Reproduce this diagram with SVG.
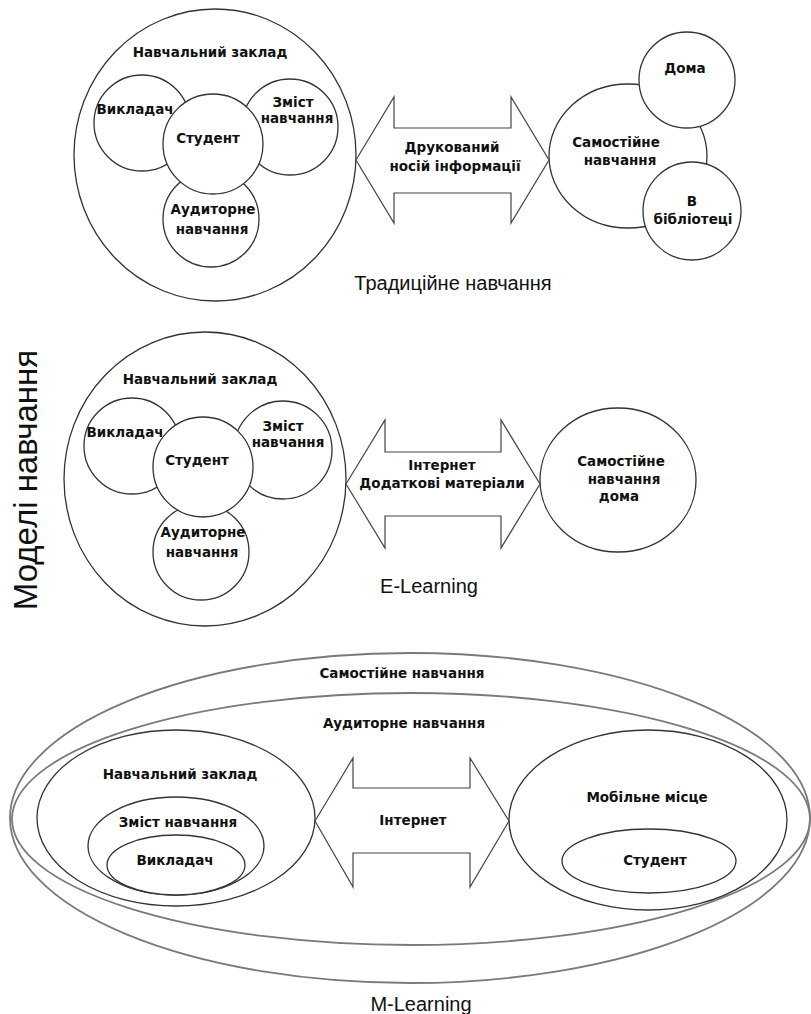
<svg xmlns="http://www.w3.org/2000/svg" width="811" height="1014" viewBox="0 0 811 1014">
<style>
.n{fill:#fff;stroke:#333;stroke-width:1.3}
.o{fill:none;stroke:#7a7a7a;stroke-width:1.8}
.a{fill:#fff;stroke:#444;stroke-width:1.2;stroke-linejoin:miter}
.t{font-family:"DejaVu Sans",sans-serif;font-weight:bold;font-size:13.5px;fill:#111;text-anchor:middle}
.c{font-family:"Liberation Sans",Arial,sans-serif;font-size:20px;fill:#111;text-anchor:middle}
</style>
<rect width="811" height="1014" fill="#fff"/>

<text class="c" x="37" y="480" style="font-size:33px" transform="rotate(-90 37 480)">Моделі навчання</text>

<!-- Traditional -->
<g id="trad-zaklad">
<ellipse class="n" cx="215" cy="155" rx="141" ry="146"/>
<text class="t" x="210" y="57">Навчальний заклад</text>
</g>
<g id="trad-vykladach">
<circle class="n" cx="142" cy="123" r="48"/>
<text class="t" x="135" y="114">Викладач</text>
</g>
<g id="trad-zmist">
<circle class="n" cx="290" cy="127" r="48"/>
<text class="t" x="293" y="106.5">Зміст</text>
<text class="t" x="297" y="122.5">навчання</text>
</g>
<g id="trad-audytorne">
<circle class="n" cx="211" cy="219" r="48"/>
<text class="t" x="213" y="214">Аудиторне</text>
<text class="t" x="212" y="234">навчання</text>
</g>
<g id="trad-student">
<circle class="n" cx="213" cy="144" r="50"/>
<text class="t" x="208" y="142.5">Студент</text>
</g>
<g id="trad-samostiyne">
<ellipse class="n" cx="628" cy="156" rx="79" ry="72"/>
<text class="t" x="616" y="146.5">Самостійне</text>
<text class="t" x="620" y="165">навчання</text>
</g>
<g id="trad-doma">
<circle class="n" cx="687" cy="80" r="48"/>
<text class="t" x="685" y="72.5">Дома</text>
</g>
<g id="trad-biblioteka">
<circle class="n" cx="692" cy="211" r="49"/>
<text class="t" x="692" y="206">В</text>
<text class="t" x="693" y="224">бібліотеці</text>
</g>
<text class="c" x="453" y="290">Традиційне навчання</text>

<!-- E-Learning -->
<g id="e-zaklad">
<ellipse class="n" cx="205" cy="479" rx="141" ry="147"/>
<text class="t" x="200" y="383.5">Навчальний заклад</text>
</g>
<g id="e-vykladach">
<circle class="n" cx="132" cy="446" r="48"/>
<text class="t" x="125" y="437">Викладач</text>
</g>
<g id="e-zmist">
<circle class="n" cx="283" cy="450" r="49"/>
<text class="t" x="283" y="430.5">Зміст</text>
<text class="t" x="288" y="446.5">навчання</text>
</g>
<g id="e-audytorne">
<circle class="n" cx="201" cy="552" r="48"/>
<text class="t" x="203" y="537">Аудиторне</text>
<text class="t" x="202" y="556.5">навчання</text>
</g>
<g id="e-student">
<circle class="n" cx="203" cy="467" r="50"/>
<text class="t" x="197" y="465">Студент</text>
</g>
<g id="e-samostiyne">
<ellipse class="n" cx="618" cy="480" rx="78" ry="72"/>
<text class="t" x="621" y="466">Самостійне</text>
<text class="t" x="624" y="484">навчання</text>
<text class="t" x="619" y="501">дома</text>
</g>
<text class="c" x="429" y="593">E-Learning</text>

<!-- M-Learning -->
<g id="m-samostiyne">
<ellipse class="o" cx="410" cy="818" rx="400" ry="165"/>
<text class="t" x="402" y="677.5">Самостійне навчання</text>
</g>
<g id="m-audytorne">
<ellipse class="o" cx="411" cy="819" rx="399" ry="126"/>
<text class="t" x="404" y="728">Аудиторне навчання</text>
</g>
<g id="m-zaklad">
<ellipse class="n" cx="176" cy="818" rx="139" ry="88"/>
<text class="t" x="180" y="779">Навчальний заклад</text>
</g>
<g id="m-zmist">
<ellipse class="n" cx="176" cy="846" rx="88" ry="49"/>
<text class="t" x="178" y="826.5">Зміст навчання</text>
</g>
<g id="m-vykladach">
<ellipse class="n" cx="176" cy="865" rx="69" ry="30"/>
<text class="t" x="175" y="865">Викладач</text>
</g>
<g id="m-mobilne">
<ellipse class="n" cx="648" cy="820" rx="139" ry="90"/>
<text class="t" x="647" y="802">Мобільне місце</text>
</g>
<g id="m-student">
<ellipse class="n" cx="649" cy="861" rx="87" ry="32"/>
<text class="t" x="655" y="865">Студент</text>
</g>
<text class="c" x="421" y="1011">M-Learning</text>

<!-- connectors -->
<g id="connectors">
<polygon class="a" points="356,160 394,97 394,128 511,128 511,97 549,160 511,223 511,193 394,193 394,223"/>
<text class="t" x="452" y="152">Друкований</text>
<text class="t" x="455" y="171">носій інформації</text>
<polygon class="a" points="346,484 385,420 385,452 501,452 501,420 540,484 501,548 501,516 385,516 385,548"/>
<text class="t" x="442" y="470">Інтернет</text>
<text class="t" x="442" y="487.5">Додаткові матеріали</text>
<polygon class="a" points="315,821 353,758 353,788 470,788 470,758 509,821 470,887 470,853 353,853 353,887"/>
<text class="t" x="413" y="825">Інтернет</text>
</g>
</svg>
